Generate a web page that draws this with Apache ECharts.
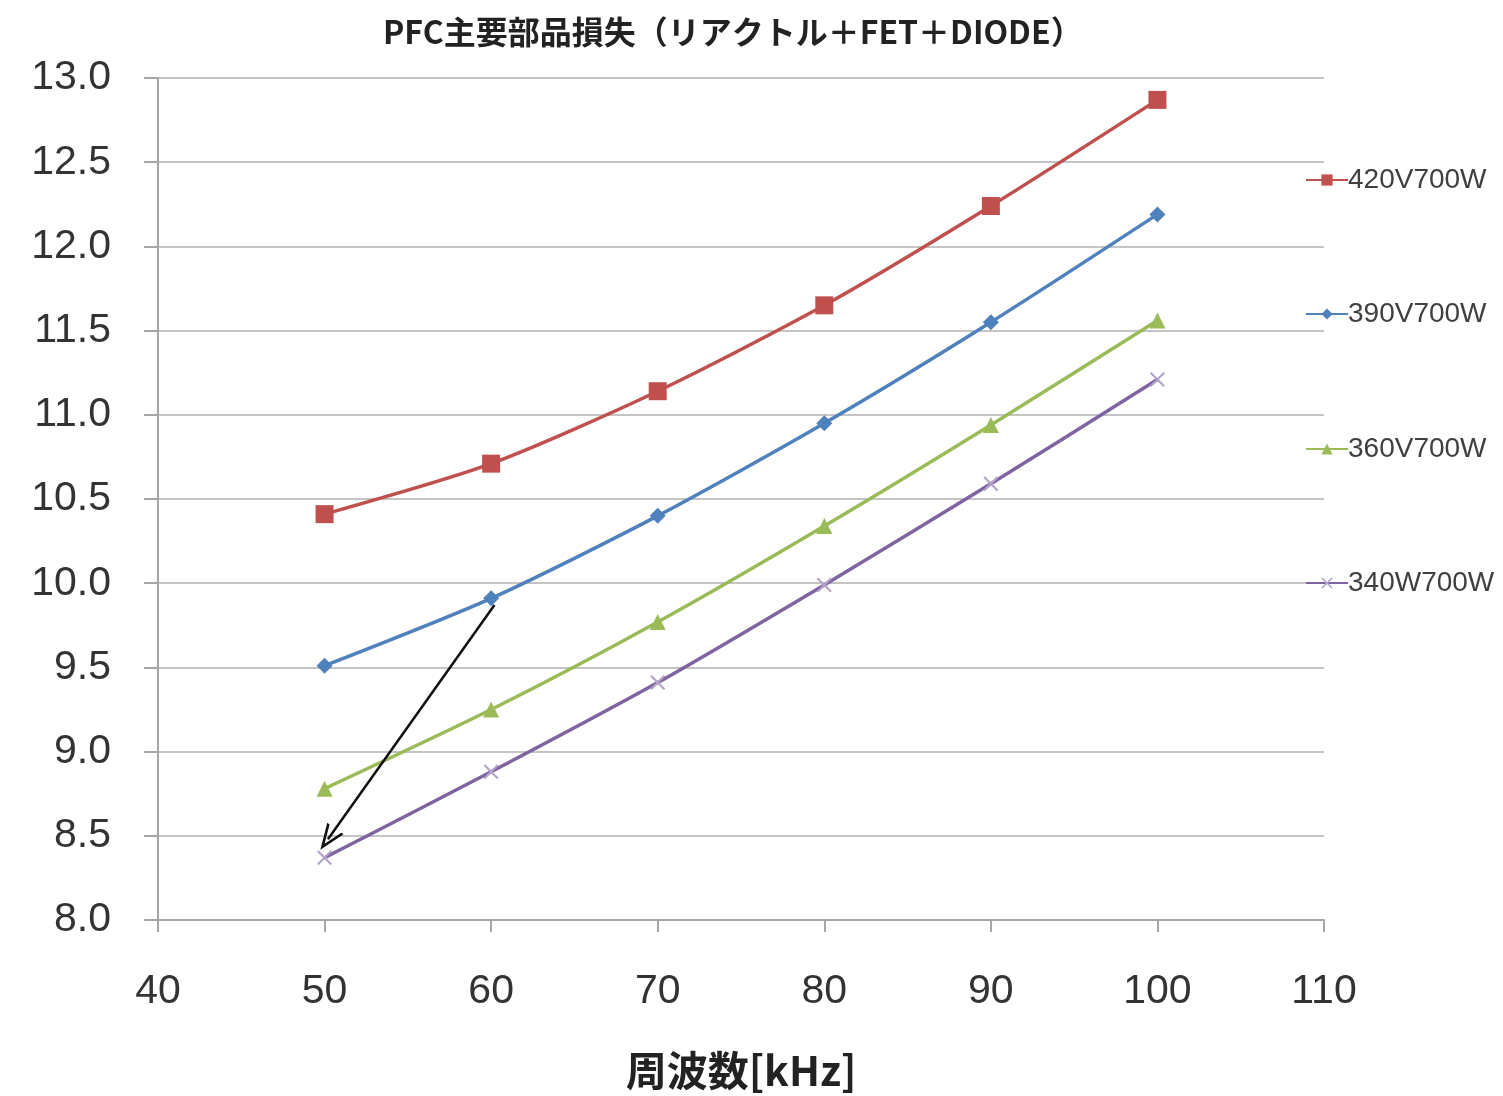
<!DOCTYPE html>
<html>
<head>
<meta charset="utf-8">
<script src="https://cdn.jsdelivr.net/npm/echarts@6/dist/echarts.min.js"></script>
<style>
  html, body { margin: 0; padding: 0; background: #fff; }
  #chart { width: 1503px; height: 1096px; }
</style>
</head>
<body>
<div id="chart"></div>
<script>
// Switching frequency [kHz]
const freqs = [50, 60, 70, 80, 90, 100];

// Main component loss per operating condition
const loss420V = [10.41, 10.71, 11.14, 11.65, 12.24, 12.87];
const loss390V = [9.51, 9.91, 10.40, 10.95, 11.55, 12.19];
const loss360V = [8.78, 9.25, 9.77, 10.34, 10.94, 11.56];
const loss340V = [8.37, 8.88, 9.41, 9.99, 10.59, 11.21];

const seriesNames = ['420V700W', '390V700W', '360V700W', '340W700W'];

// Annotation arrow: start and end in data coordinates [kHz, loss]
const arrowFrom = [60.2, 9.87];
const arrowTo = [50.2, 8.48];

const crossSymbol = 'path://M0,1L1,0L5,4L9,0L10,1L6,5L10,9L9,10L5,6L1,10L0,9L4,5Z';
const openArrow = 'path://M0,10L5,0L10,10L8.6,10L5,2.8L1.4,10Z';

const colors = ['#C0504D', '#4F81BD', '#9BBB59', '#8064A2'];
const symbols = ['rect', 'diamond', 'triangle', crossSymbol];
const symbolSizes = [18, 16, 16, 15];
const markerColors = ['#C0504D', '#4F81BD', '#9BBB59', '#B3A2C7'];
const values = [loss420V, loss390V, loss360V, loss340V];

const labelFont = '"Liberation Sans", Arial, sans-serif';

const chart = echarts.init(document.getElementById('chart'));

const series = values.map((vals, i) => ({
  name: seriesNames[i],
  type: 'line',
  smooth: 0.25,
  data: freqs.map((f, k) => [f, vals[k]]),
  symbol: symbols[i],
  symbolSize: symbolSizes[i],
  showAllSymbol: true,
  lineStyle: { color: colors[i], width: 3.5 },
  itemStyle: { color: markerColors[i] },
  emphasis: { disabled: true },
  z: 3
}));

// Black annotation arrow
series[1].markLine = {
  silent: true,
  symbol: ['none', openArrow],
  symbolSize: [20, 26],
  label: { show: false },
  lineStyle: { color: '#111', width: 2.5, type: 'solid' },
  data: [[{ coord: arrowFrom }, { coord: arrowTo }]],
  z: 5
};

const legendTops = [161, 295, 430, 564];
const legends = seriesNames.map((n, i) => ({
  data: [n],
  left: 1300,
  top: legendTops[i],
  orient: 'vertical',
  itemWidth: 42,
  itemHeight: 14,
  itemGap: 0,
  textStyle: {
    fontFamily: labelFont,
    fontSize: 28,
    color: '#404040',
    padding: [0, 0, 0, -5]
  },
  selectedMode: false
}));

chart.setOption({
  backgroundColor: '#ffffff',
  animation: false,
  color: colors,
  title: {
    text: 'PFC主要部品損失（リアクトル＋FET＋DIODE）',
    left: 378,
    top: 11,
    textStyle: {
      fontFamily: '"Noto Sans CJK JP", sans-serif',
      fontWeight: 'bold',
      fontSize: 32,
      color: '#222'
    }
  },
  legend: legends,
  grid: { left: 158, right: 179, top: 78, bottom: 175 },
  xAxis: {
    type: 'value',
    min: 40,
    max: 110,
    interval: 10,
    name: '周波数[kHz]',
    nameLocation: 'middle',
    nameGap: 130,
    nameTextStyle: {
      fontFamily: '"Noto Sans CJK JP", sans-serif',
      fontWeight: 'bold',
      fontSize: 41,
      color: '#222'
    },
    axisLine: { show: true, lineStyle: { color: '#a6a6a6', width: 2 } },
    axisTick: { show: true, length: 12, inside: false, lineStyle: { color: '#a6a6a6', width: 2 } },
    axisLabel: {
      margin: 51,
      fontFamily: labelFont,
      fontSize: 41,
      color: '#333'
    },
    splitLine: { show: false }
  },
  yAxis: {
    type: 'value',
    min: 8,
    max: 13,
    interval: 0.5,
    axisLine: { show: true, lineStyle: { color: '#a6a6a6', width: 2 } },
    axisTick: { show: true, length: 14, lineStyle: { color: '#a6a6a6', width: 2 } },
    axisLabel: {
      margin: 47,
      fontFamily: labelFont,
      fontSize: 41,
      color: '#333',
      formatter: v => v.toFixed(1)
    },
    splitLine: { show: true, lineStyle: { color: '#c4c4c4', width: 2 } }
  },
  series: series
});
</script>
</body>
</html>
